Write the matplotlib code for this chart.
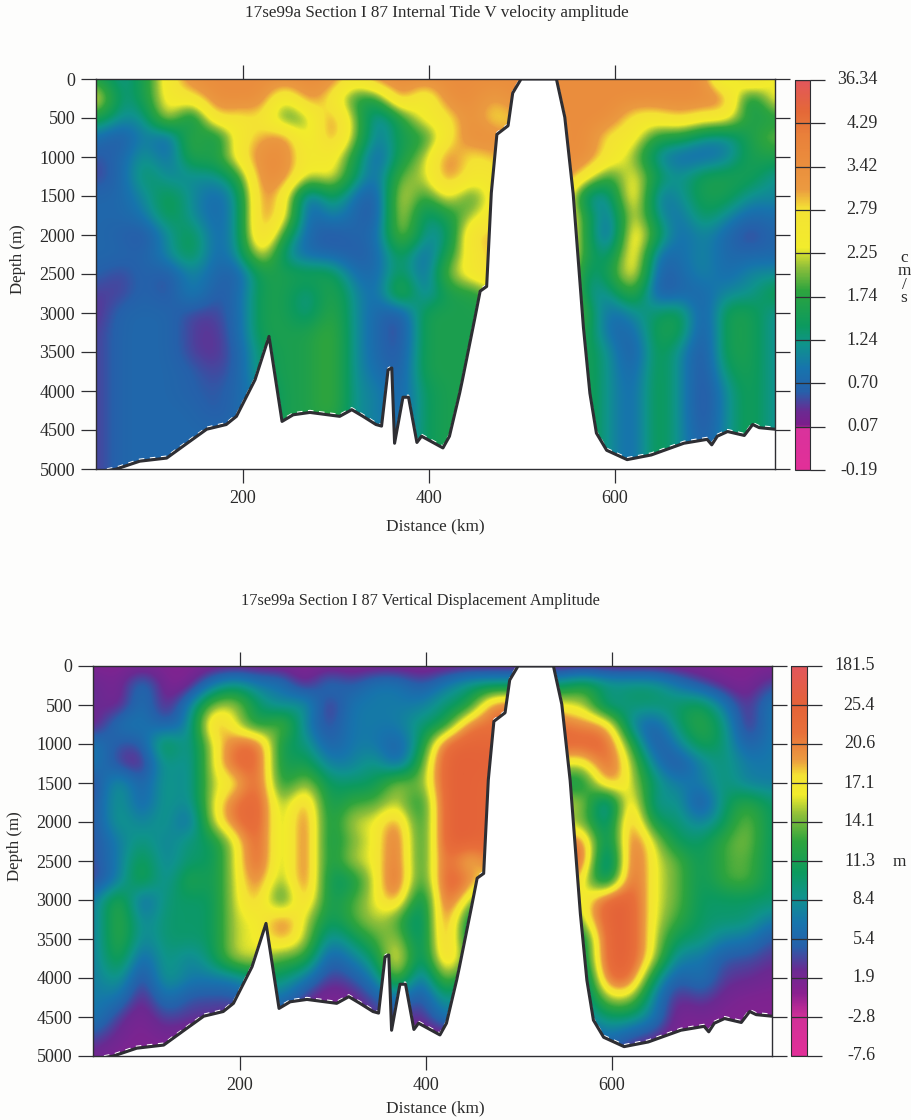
import numpy as np
import matplotlib
matplotlib.use('Agg')
import matplotlib.pyplot as plt
from matplotlib.colors import LinearSegmentedColormap

plt.rcParams['font.family'] = ['Liberation Serif', 'DejaVu Serif']

W, H = 912, 1120

# grid the amplitudes were read on
distance_km = [45, 70, 95, 120, 145, 170, 195, 220, 245, 270, 295, 320, 345, 370, 395, 420,
               445, 470, 495, 520, 545, 570, 595, 620, 645, 670, 695, 720, 745, 770]
depth_m = list(range(0, 5001, 250))

# sea floor
bathy_km = [42, 64, 89, 118, 140, 161, 182, 193, 213, 228, 242, 254, 272, 304, 317, 329, 343, 349,
            356, 360, 363, 372, 378, 387, 392, 415, 422, 433, 436, 449, 455, 462, 467, 473, 485,
            490, 499, 537, 546, 555, 566, 573, 580, 591, 613, 639, 674, 699, 704, 710, 721, 739,
            748, 755, 772]
bathy_depth = [5050, 5000, 4900, 4860, 4670, 4490, 4430, 4325, 3855, 3300, 4390, 4305, 4275, 4325,
               4240, 4325, 4430, 4450, 3730, 3705, 4670, 4080, 4080, 4660, 4580, 4730, 4580, 4025,
               3855, 3085, 2720, 2660, 1460, 710, 600, 180, 0, 0, 490, 1470, 3180, 4030, 4540,
               4760, 4880, 4820, 4670, 4620, 4690, 4580, 4520, 4570, 4430, 4470, 4490]

# V velocity amplitude, cm/s
v_amp = [
    [1.6, 1.1, 1.6, 2.6, 3.5, 3.5, 3.5, 3.5, 3.5, 3.5, 3.5, 2.6, 3.5, 3.5, 3.5, 3.5, 3.5, 3.5, 3.5, 3.5, 3.5, 3.5, 3.5, 3.5, 3.5, 3.5, 3.5, 1.6, 3.5, 2.1],
    [2.6, 1.1, 1.6, 2.6, 2.6, 3.5, 3.5, 3.5, 2.1, 3.5, 2.6, 1.6, 1.6, 3.5, 2.1, 3.5, 3.5, 3.0, 3.5, 3.5, 3.5, 3.5, 3.5, 3.5, 3.5, 3.5, 3.5, 3.5, 1.1, 2.6],
    [1.6, 1.1, 1.1, 2.6, 1.0, 3.0, 2.6, 2.8, 1.6, 2.0, 3.5, 2.1, 0.8, 1.6, 2.6, 2.6, 3.5, 2.6, 3.0, 3.0, 3.5, 3.5, 3.5, 2.6, 2.6, 3.0, 2.6, 2.6, 1.6, 1.6],
    [0.8, 0.4, 1.1, 0.5, 2.1, 1.2, 2.6, 3.0, 3.5, 2.0, 3.5, 2.1, 0.8, 1.6, 1.6, 2.6, 3.5, 3.5, 3.0, 3.0, 3.5, 3.5, 2.6, 2.6, 1.6, 1.6, 1.1, 1.0, 1.6, 2.1],
    [0.5, 0.7, 1.3, 0.7, 1.8, 1.6, 2.6, 3.5, 3.5, 2.4, 2.6, 1.6, 0.5, 1.6, 2.1, 3.5, 2.6, 3.0, 3.0, 3.0, 3.5, 3.5, 2.6, 2.1, 1.0, 0.7, 0.7, 0.9, 1.6, 1.6],
    [0.4, 0.7, 1.5, 1.0, 1.1, 1.1, 1.6, 3.5, 3.5, 2.1, 2.6, 1.4, 0.7, 2.1, 2.1, 3.5, 2.6, 2.6, 3.0, 3.0, 3.5, 2.6, 1.6, 2.6, 1.5, 1.1, 1.6, 1.6, 1.6, 1.1],
    [0.7, 0.7, 1.1, 1.6, 1.1, 0.7, 1.1, 3.5, 2.6, 0.5, 1.6, 0.8, 0.4, 2.6, 1.6, 2.6, 1.6, 2.6, 3.0, 3.0, 3.0, 0.9, 1.1, 3.0, 0.8, 1.1, 1.6, 1.6, 1.1, 1.1],
    [0.7, 0.7, 0.9, 1.6, 1.1, 0.7, 1.1, 3.5, 2.6, 0.5, 1.1, 0.7, 0.4, 2.6, 1.1, 1.6, 2.1, 2.6, 3.0, 3.0, 3.0, 1.6, 0.7, 2.6, 1.1, 0.8, 1.5, 1.1, 0.7, 0.8],
    [0.7, 0.6, 0.4, 1.1, 1.6, 0.7, 1.1, 3.5, 1.6, 0.7, 0.4, 0.7, 0.7, 2.4, 1.1, 1.1, 3.0, 3.0, 3.0, 3.0, 3.0, 1.6, 0.4, 3.0, 1.6, 0.7, 1.1, 0.7, 0.3, 0.7],
    [0.7, 0.7, 0.6, 1.1, 1.6, 0.7, 1.1, 2.6, 1.1, 0.7, 0.7, 0.5, 0.7, 1.6, 0.6, 1.6, 2.6, 3.0, 3.0, 3.0, 3.0, 1.6, 1.1, 3.0, 0.7, 0.8, 1.1, 0.7, 0.7, 0.7],
    [0.6, 0.4, 0.7, 0.4, 1.1, 0.7, 0.5, 1.6, 1.6, 1.6, 1.6, 0.8, 0.7, 1.6, 0.6, 2.1, 2.6, 3.0, 3.0, 3.0, 3.0, 1.1, 1.6, 2.8, 0.5, 0.7, 1.1, 0.7, 1.1, 1.1],
    [0.4, 0.4, 0.7, 0.4, 1.1, 0.5, 0.7, 1.6, 1.6, 1.1, 1.8, 1.1, 0.7, 2.1, 0.8, 1.6, 1.6, 2.0, 3.0, 3.0, 3.0, 1.1, 1.1, 2.0, 0.4, 0.7, 0.7, 1.1, 1.1, 1.6],
    [0.3, 0.7, 0.7, 0.7, 0.4, 0.4, 0.7, 1.6, 1.6, 1.1, 1.9, 1.1, 0.7, 0.4, 1.6, 1.6, 1.6, 1.6, 3.0, 3.0, 3.0, 1.6, 0.7, 1.1, 1.4, 1.6, 0.4, 1.6, 1.6, 1.1],
    [0.4, 0.7, 0.7, 0.7, 0.4, 0.3, 0.7, 1.6, 1.6, 1.6, 2.0, 1.1, 0.7, 0.3, 1.6, 1.6, 1.6, 1.6, 2.0, 2.0, 2.0, 1.6, 0.7, 0.7, 1.6, 1.6, 0.3, 1.6, 1.6, 1.1],
    [0.4, 0.7, 0.7, 0.7, 0.4, 0.3, 0.6, 1.4, 1.6, 1.6, 2.0, 1.1, 0.7, 0.4, 1.6, 1.6, 1.6, 1.6, 1.6, 1.6, 1.6, 1.6, 1.1, 0.4, 1.6, 1.1, 0.3, 1.6, 1.6, 1.1],
    [0.4, 0.7, 0.7, 0.7, 0.6, 0.4, 0.6, 1.4, 1.6, 1.6, 2.0, 1.1, 0.8, 0.5, 1.6, 1.6, 1.6, 1.6, 1.6, 1.6, 1.6, 1.6, 1.1, 0.6, 1.6, 1.1, 0.3, 1.4, 1.6, 1.1],
    [0.4, 0.7, 0.7, 0.7, 0.6, 0.5, 0.7, 1.1, 1.6, 1.6, 2.0, 1.1, 1.0, 0.6, 1.4, 1.6, 1.6, 1.6, 1.6, 1.6, 1.6, 1.6, 1.1, 0.7, 1.6, 1.1, 0.3, 1.1, 1.6, 1.1],
    [0.4, 0.7, 0.7, 0.7, 0.7, 0.5, 0.7, 1.1, 1.6, 1.6, 2.0, 1.1, 1.0, 0.6, 1.4, 1.6, 1.6, 1.6, 1.6, 1.6, 1.6, 1.6, 1.1, 0.7, 1.6, 1.1, 0.3, 1.1, 1.6, 1.1],
    [0.4, 0.7, 0.7, 0.7, 0.7, 0.7, 0.7, 1.1, 1.6, 1.6, 1.6, 1.1, 1.0, 0.7, 1.4, 1.6, 1.6, 1.6, 1.6, 1.6, 1.6, 1.6, 1.1, 0.7, 1.6, 1.1, 0.4, 1.1, 1.6, 1.1],
    [0.4, 0.7, 0.7, 0.7, 0.7, 0.7, 0.7, 1.1, 1.6, 1.6, 1.6, 1.1, 1.0, 0.7, 1.4, 1.6, 1.6, 1.6, 1.6, 1.6, 1.6, 1.6, 1.1, 0.7, 1.6, 1.1, 0.5, 1.1, 1.6, 1.1],
    [0.4, 0.7, 0.7, 0.7, 0.7, 0.7, 0.7, 1.1, 1.6, 1.6, 1.6, 1.1, 1.0, 0.7, 1.4, 1.6, 1.6, 1.6, 1.6, 1.6, 1.6, 1.6, 1.1, 0.7, 1.6, 1.1, 0.5, 1.1, 1.6, 1.1],
]

# vertical displacement amplitude, m
disp_amp = [
    [1, 1, 1, 1, 1, 1, 1, 1, 1, 1, 1, 1, 1, 1, 1, 1, 1, 1, 1, 1, 1, 1, 1, 1, 1, 1, 1, 1, 1, 1],
    [3, 1, 7, 1, 1, 7, 10, 7, 7, 1, 7, 4, 7, 7, 4, 7, 10, 10, 10, 10, 10, 13, 10, 10, 10, 7, 4, 2, 1, 4],
    [3, 1, 7, 1, 7, 15, 16, 10, 7, 10, 1, 7, 7, 7, 7, 10, 10, 22, 22, 22, 16, 16, 7, 10, 10, 10, 12, 7, 2, 7],
    [1, 7, 7, 4, 7, 22, 16, 10, 16, 7, 3, 7, 7, 7, 10, 10, 22, 22, 22, 22, 22, 20, 20, 7, 4, 10, 13, 10, 1, 7],
    [7, 4, 4, 13, 7, 16, 22, 24, 10, 10, 4, 7, 7, 4, 10, 24, 25, 24, 24, 24, 24, 24, 24, 13, 3, 7, 12, 10, 4, 7],
    [7, 3, 1, 10, 7, 16, 24, 24, 10, 12, 7, 7, 10, 4, 13, 26, 26, 26, 26, 26, 16, 16, 24, 16, 7, 3, 7, 10, 7, 7],
    [3, 10, 4, 10, 7, 16, 16, 26, 10, 16, 10, 10, 10, 16, 13, 27, 26, 24, 24, 24, 10, 10, 22, 16, 10, 7, 7, 10, 7, 7],
    [4, 10, 4, 10, 7, 16, 22, 27, 13, 22, 10, 13, 13, 16, 10, 27, 27, 24, 24, 24, 16, 16, 4, 22, 7, 10, 2, 10, 13, 10],
    [4, 10, 7, 10, 4, 16, 22, 27, 13, 24, 10, 16, 16, 22, 10, 27, 27, 24, 24, 24, 14, 14, 7, 24, 10, 10, 7, 10, 15, 10],
    [4, 7, 10, 7, 10, 10, 16, 27, 13, 24, 10, 14, 16, 24, 10, 27, 27, 24, 24, 24, 22, 22, 7, 24, 16, 10, 10, 13, 15, 10],
    [4, 7, 12, 7, 10, 10, 16, 27, 13, 24, 10, 16, 16, 24, 10, 27, 16, 22, 22, 22, 24, 24, 3, 27, 16, 14, 10, 13, 14, 10],
    [3, 7, 13, 7, 13, 10, 16, 22, 13, 24, 10, 10, 16, 26, 10, 26, 22, 16, 16, 16, 24, 16, 7, 27, 16, 14, 10, 13, 14, 10],
    [7, 14, 4, 10, 10, 10, 16, 20, 10, 22, 10, 13, 16, 22, 7, 26, 16, 10, 10, 10, 16, 16, 27, 27, 16, 14, 10, 10, 10, 10],
    [7, 14, 7, 10, 10, 10, 16, 16, 22, 16, 10, 13, 16, 13, 7, 25, 10, 10, 10, 10, 10, 16, 27, 27, 16, 13, 10, 10, 10, 7],
    [7, 14, 7, 10, 10, 10, 16, 16, 20, 16, 7, 10, 13, 16, 7, 24, 10, 7, 7, 7, 7, 10, 27, 27, 16, 10, 10, 7, 7, 4],
    [7, 13, 4, 10, 7, 10, 16, 16, 13, 13, 4, 7, 10, 20, 7, 22, 13, 7, 7, 7, 7, 10, 27, 27, 16, 7, 7, 4, 4, 3],
    [7, 10, 2, 10, 7, 7, 7, 10, 10, 7, 3, 4, 7, 16, 4, 16, 10, 7, 7, 7, 7, 7, 24, 24, 10, 4, 7, 3, 3, 2],
    [7, 7, 1, 7, 4, 4, 4, 7, 7, 3, 1, 2, 4, 7, 3, 10, 7, 7, 7, 7, 7, 7, 16, 16, 7, 2, 4, 2, 1, 1],
    [7, 3, 1, 4, 3, 3, 2, 4, 3, 1, 1, 1, 3, 4, 2, 7, 7, 7, 7, 7, 7, 7, 10, 10, 7, 1, 2, 1, 1, 1],
    [4, 2, 1, 2, 1, 1, 1, 2, 1, 1, 1, 1, 1, 2, 1, 1, 1, 4, 4, 4, 4, 4, 7, 4, 3, 1, 1, 1, 1, 1],
    [2, 1, 1, 1, 1, 1, 1, 1, 1, 1, 1, 1, 1, 1, 1, 1, 1, 1, 1, 1, 1, 1, 4, 2, 1, 1, 1, 1, 1, 1],
]

# colour bar labels, bottom to top
v_levels = [-0.19, 0.07, 0.70, 1.24, 1.74, 2.25, 2.79, 3.42, 4.29, 36.34]
v_level_labels = ['-0.19', '0.07', '0.70', '1.24', '1.74', '2.25', '2.79', '3.42', '4.29', '36.34']
disp_levels = [-7.6, -2.8, 1.9, 5.4, 8.4, 11.3, 14.1, 17.1, 20.6, 25.4, 181.5]
disp_level_labels = ['-7.6', '-2.8', '1.9', '5.4', '8.4', '11.3', '14.1', '17.1', '20.6', '25.4', '181.5']

depth_ticks = [0, 500, 1000, 1500, 2000, 2500, 3000, 3500, 4000, 4500, 5000]
dist_ticks = [200, 400, 600]

# colour stops as (position on the bar 0-1, colour)
v_colors = [(0.0, '#e22f98'), (0.105, '#d9329c'), (0.115, '#7c1d8b'), (0.15, '#6a2a92'), (0.2, '#2660aa'),
            (0.26, '#1774ad'), (0.32, '#0f938c'), (0.37, '#0c9a5e'), (0.46, '#2da43e'), (0.52, '#8fbf3a'),
            (0.57, '#f2ec2c'), (0.67, '#f4e234'), (0.72, '#eb9a40'), (0.86, '#e9803a'), (0.92, '#e46838'), (1.0, '#e2565c')]
disp_colors = [(0.0, '#e22f98'), (0.1, '#d03098'), (0.16, '#8a2090'), (0.22, '#6a2a92'), (0.28, '#2660aa'),
               (0.34, '#1774ad'), (0.41, '#0f938c'), (0.47, '#0c9a5e'), (0.55, '#2da43e'), (0.62, '#8fbf3a'),
               (0.67, '#f2ec2c'), (0.72, '#f4e234'), (0.76, '#eb9a40'), (0.83, '#e8703a'), (0.9, '#e46238'), (1.0, '#e2565c')]

DARK = '#2e2e33'
TEXT = '#2a2a2a'
TICK_SIZE = 13


def px_axes(x0, y0, x1, y1):
    return plt.gcf().add_axes([x0 / W, 1 - y1 / H, (x1 - x0) / W, (y1 - y0) / H])


def px_text(x, y, s, **kw):
    plt.gcf().text(x / W, 1 - y / H, s, color=TEXT, va='center', **kw)


def draw_panel(box, cbox, values, levels, level_labels, colors, title, title_pos, title_size,
               xlabel_y, ylabel_x, unit, unit_pos, label_right):
    ax = px_axes(*box)
    cax = px_axes(*cbox)

    positions = np.arange(len(levels))
    grid = np.interp(np.array(values, dtype=float), levels, positions)
    cmap = LinearSegmentedColormap.from_list('band', colors, N=512)

    dx = distance_km[1] - distance_km[0]
    dz = depth_m[1] - depth_m[0]
    extent = [distance_km[0] - dx / 2, distance_km[-1] + dx / 2, depth_m[-1] + dz / 2, depth_m[0] - dz / 2]
    im = ax.imshow(grid, extent=extent, aspect='auto', cmap=cmap, vmin=0, vmax=positions[-1],
                   interpolation='bicubic', zorder=1)

    ax.fill_between(bathy_km, bathy_depth, 5100, color='white', lw=0, zorder=2)
    ax.plot(bathy_km, np.array(bathy_depth) - 25, color='white', lw=1.0, ls=(0, (4, 4)), zorder=3)
    ax.plot(bathy_km, bathy_depth, color=DARK, lw=2.2, solid_joinstyle='round', zorder=4)

    ax.set_xlim(42, 772)
    ax.set_ylim(5000, 0)
    ax.set_xticks(dist_ticks)
    ax.set_yticks(depth_ticks)
    ax.tick_params(axis='x', top=True, length=10, width=0.9, color=DARK, labelsize=TICK_SIZE, pad=5, labelcolor=TEXT)
    ax.tick_params(axis='y', right=True, length=11, width=0.9, color=DARK, labelsize=TICK_SIZE, pad=4, labelcolor=TEXT)
    for spine in ax.spines.values():
        spine.set_color(DARK)
        spine.set_linewidth(1.0)
        spine.set_zorder(5)

    cb = plt.gcf().colorbar(im, cax=cax, ticks=positions)
    cb.outline.set_edgecolor(DARK)
    cb.outline.set_linewidth(0.8)
    cax.tick_params(length=11, width=0.9, color=DARK, labelright=False)
    cax.yaxis.grid(True, color=DARK, lw=0.9)
    cax.set_axisbelow(False)
    for pos, lab in zip(positions, level_labels):
        cax.text((label_right - cbox[0]) / (cbox[2] - cbox[0]), pos, lab, transform=cax.get_yaxis_transform(),
                 ha='right', va='center', fontsize=TICK_SIZE, color=TEXT)

    px_text(title_pos[0], title_pos[1], title, ha='center', fontsize=title_size)
    px_text(435, xlabel_y, 'Distance (km)', ha='center', fontsize=12.4)
    px_text(ylabel_x, (box[1] + box[3]) / 2 - 15, 'Depth (m)', ha='center', rotation=90, fontsize=12.2)
    px_text(unit_pos[0], unit_pos[1], unit, ha='center', fontsize=12.4, linespacing=0.8)


fig = plt.figure(figsize=(W / 100, H / 100), dpi=100, facecolor='#fdfdfc')

draw_panel((96, 79, 775, 469), (795, 80, 810, 470), v_amp, v_levels, v_level_labels, v_colors,
           '17se99a Section I 87 Internal Tide V velocity amplitude', (437, 13), 12.3, 526, 18,
           'c\nm\n/\ns', (904, 278), 878)
draw_panel((93, 666, 772, 1056), (791, 666, 807, 1056), disp_amp, disp_levels, disp_level_labels, disp_colors,
           '17se99a Section I 87 Vertical Displacement Amplitude', (420, 601), 11.7, 1108, 15,
           'm', (899, 862), 875)

fig.savefig('out.png', dpi=100, facecolor=fig.get_facecolor())
